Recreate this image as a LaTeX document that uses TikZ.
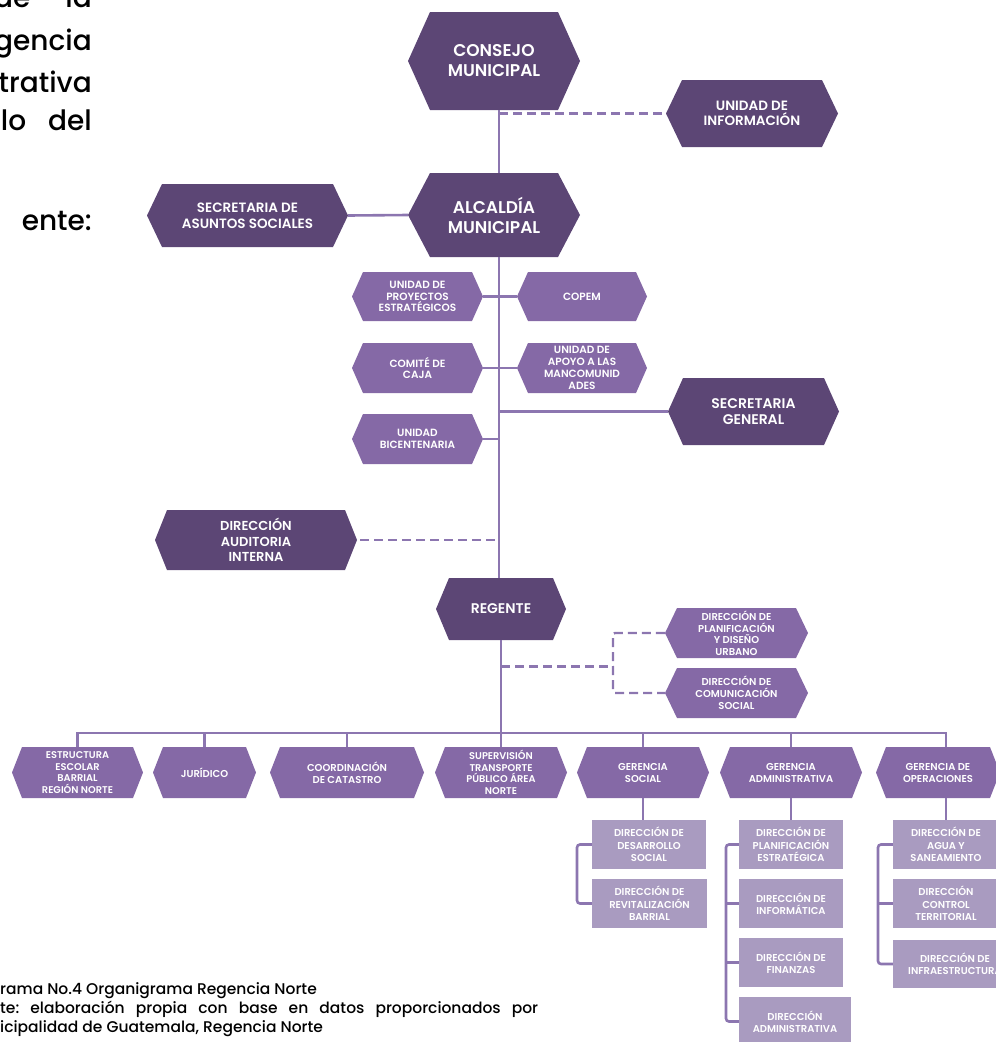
\documentclass[tikz,border=0pt]{standalone}
\usepackage{fontspec}
\setmainfont{Poppins}
\newfontfamily\semib{Poppins SemiBold}
\newfontfamily\medf{Poppins Medium}
\usetikzlibrary{calc}

\definecolor{darkp}{HTML}{5C4675}
\definecolor{midp}{HTML}{8569A6}
\definecolor{lightp}{HTML}{A99BC0}
\definecolor{linec}{HTML}{8C76B0}

\tikzset{
  txt/.style 2 args={font=\semib\fontsize{#1}{#2}\selectfont},
  boxlabel/.style={text=white, align=center, inner sep=0pt},
  conn/.style={draw=linec, line width=2.6pt},
  dconn/.style={draw=linec, line width=2.4pt, dash pattern=on 9pt off 5pt},
  subbox/.style={fill=lightp, text=white, align=center, inner sep=0pt,
                 font=\semib\fontsize{10}{12.3}\selectfont},
  bodytext/.style={font=\medf\fontsize{28}{34}\selectfont, inner sep=0pt},
  captext/.style={font=\medf\fontsize{15.5}{19}\selectfont, inner sep=0pt},
}

% hexagonal box: name, cx, cy, width, height, point inset, colour, text style, text
\newcommand\hexbox[9]{%
  \fill[#7] ({#2-#4/2},#3) -- ({#2-#4/2+#6},{#3-#5/2}) -- ({#2+#4/2-#6},{#3-#5/2})
     -- ({#2+#4/2},#3) -- ({#2+#4/2-#6},{#3+#5/2}) -- ({#2-#4/2+#6},{#3+#5/2}) -- cycle;
  \node[boxlabel, minimum width=#4pt, minimum height=#5pt, #8] (#1) at (#2,#3) {#9};%
}

\begin{document}
\begin{tikzpicture}[x=1pt,y=-1pt]
\useasboundingbox (0,0) rectangle (996,1042);
\clip (0,0) rectangle (996,1042);

% running text of the page
\node[bodytext, anchor=base east] (p1) at (92,7) {de\hspace{35pt}la};
\node[bodytext, anchor=base east] (p2) at (92,50) {gencia};
\node[bodytext, anchor=base east] (p3) at (92,92) {trativa};
\node[bodytext, anchor=base east] (p4) at (92,130) {lo\hspace{22pt}del};
\node[bodytext, anchor=base east] (p5) at (92,230) {ente:};

% spine positions
\coordinate (sp) at (499,0);
\coordinate (busL) at (0,733);
\coordinate (brk) at (613,666.5);
\coordinate (bxs) at (577,0);
\coordinate (bxa) at (726,0);
\coordinate (bxo) at (878,0);

% top levels
\hexbox{cons}{494}{61}{172}{98}{22}{darkp}{txt={17}{20}}{CONSEJO\\MUNICIPAL}
\hexbox{info}{752}{113.5}{172}{67}{16}{darkp}{txt={13.5}{15.5}}{UNIDAD DE\\INFORMACIÓN}
\hexbox{alc}{494}{215}{172}{84}{22}{darkp}{txt={17}{20}}{ALCALDÍA\\MUNICIPAL}
\hexbox{asun}{247.5}{215.5}{201}{63}{15}{darkp}{txt={13.5}{16}}{SECRETARIA DE\\ASUNTOS SOCIALES}

% units under the mayor's office
\hexbox{proy}{417.5}{296.5}{131}{49}{11}{midp}{txt={10.5}{11.8}}{UNIDAD DE\\PROYECTOS\\ESTRATÉGICOS}
\hexbox{copem}{582}{296.5}{130}{49}{11}{midp}{txt={10.5}{11.8}}{COPEM}
\hexbox{caja}{417.5}{368}{131}{50}{11}{midp}{txt={10.5}{11.8}}{COMITÉ DE\\CAJA}
\hexbox{apoyo}{582}{368}{130}{50}{11}{midp}{txt={10.5}{11.8}}{UNIDAD DE\\APOYO A LAS\\MANCOMUNID\\ADES}
\hexbox{sg}{753.5}{411.5}{171}{67}{15}{darkp}{txt={14}{16.5}}{SECRETARIA\\GENERAL}
\hexbox{bic}{417.5}{439}{131}{50}{11}{midp}{txt={10.5}{11.8}}{UNIDAD\\BICENTENARIA}
\hexbox{aud}{256}{540}{202}{60}{12}{darkp}{txt={13}{15.5}}{DIRECCIÓN\\AUDITORIA\\INTERNA}
\hexbox{reg}{501}{609}{130}{62}{13}{darkp}{txt={14}{16}}{REGENTE}
\hexbox{plan}{736.5}{633}{143}{50}{12}{midp}{txt={10}{11.5}}{DIRECCIÓN DE\\PLANIFICACIÓN\\Y DISEÑO\\URBANO}
\hexbox{com}{736.5}{693}{143}{50}{12}{midp}{txt={10}{12}}{DIRECCIÓN DE\\COMUNICACIÓN\\SOCIAL}

% bottom row
\hexbox{esc}{77.5}{772.5}{131}{51}{10}{midp}{txt={9.8}{11.6}}{ESTRUCTURA\\ESCOLAR\\BARRIAL\\REGIÓN NORTE}
\hexbox{jur}{204.5}{772.5}{103}{51}{10}{midp}{txt={10}{12}}{JURÍDICO}
\hexbox{cat}{347}{772.5}{154}{51}{10}{midp}{txt={10}{12}}{COORDINACIÓN\\DE CATASTRO}
\hexbox{sup}{501}{772.5}{132}{51}{10}{midp}{txt={9.8}{11.6}}{SUPERVISIÓN\\TRANSPORTE\\PÚBLICO ÁREA\\NORTE}
\hexbox{gsoc}{643}{772.5}{132}{51}{10}{midp}{txt={10}{12}}{GERENCIA\\SOCIAL}
\hexbox{gadm}{791}{772.5}{142}{51}{10}{midp}{txt={10}{12}}{GERENCIA\\ADMINISTRATIVA}
\hexbox{gop}{938}{772.5}{124}{51}{10}{midp}{txt={10}{12}}{GERENCIA DE\\OPERACIONES}

% directorates
\node[subbox, minimum width=114pt, minimum height=49pt] (ds1) at (649,844.5) {DIRECCIÓN DE\\DESARROLLO\\SOCIAL};
\node[subbox, minimum width=115pt, minimum height=49pt] (ds2) at (649.5,903.5) {DIRECCIÓN DE\\REVITALIZACIÓN\\BARRIAL};
\node[subbox, minimum width=104pt, minimum height=49pt] (da1) at (791,844.5) {DIRECCIÓN DE\\PLANIFICACIÓN\\ESTRATÉGICA};
\node[subbox, minimum width=104pt, minimum height=49pt] (da2) at (791,903.5) {DIRECCIÓN DE\\INFORMÁTICA};
\node[subbox, minimum width=104pt, minimum height=49pt] (da3) at (791,962.5) {DIRECCIÓN DE\\FINANZAS};
\node[subbox, minimum width=112pt, minimum height=49pt] (da4) at (795,1021.5) {DIRECCIÓN\\ADMINISTRATIVA};
\node[subbox, minimum width=106pt, minimum height=49pt] (do1) at (946,844.5) {DIRECCIÓN DE\\AGUA Y\\SANEAMIENTO};
\node[subbox, minimum width=106pt, minimum height=49pt] (do2) at (946,903.5) {DIRECCIÓN\\CONTROL\\TERRITORIAL};
\node[subbox, minimum width=124pt, minimum height=48pt] (do3) at (955,964) {DIRECCIÓN DE\\INFRAESTRUCTURA};

% connectors
\draw[conn] (cons.south -| sp) -- (alc.north -| sp);
\draw[dconn] (info.west -| sp) -- (info.west);
\draw[conn] (asun.east) -- (alc.west);
\draw[conn] (alc.south -| sp) -- (reg.north -| sp);
\draw[conn] (proy.east) -- (copem.west);
\draw[conn] (caja.east) -- (apoyo.west);
\draw[conn] (bic.east) -- (bic.east -| sp);
\draw[conn] (sg.west -| sp) -- (sg.west);
\draw[dconn] (aud.east) ++(3,0) -- (aud.east -| sp);
\draw[dconn] (brk -| reg.south) -- (brk);
\draw[dconn, rounded corners=2pt] (plan.west) -- (plan.west -| brk) -- (com.west -| brk) -- (com.west);

\draw[conn] (reg.south) -- (reg.south |- busL);
\draw[conn] (esc.north) -- (esc.north |- busL) -- (do1.north |- busL) -- (do1.north |- gop.north);
\foreach \n in {jur,cat,sup,gsoc,gadm}
  \draw[conn] (\n.north |- busL) -- (\n.north);

\draw[conn] (gsoc.south) -- (gsoc.south |- ds1.north);
\draw[conn, rounded corners=3pt] (ds1.west) -- (ds1.west -| bxs) -- (ds2.west -| bxs) -- (ds2.west);
\draw[conn] (gadm.south) -- (gadm.south |- da1.north);
\draw[conn, rounded corners=3pt] (da1.west) -- (da1.west -| bxa) -- (da4.west -| bxa) -- (da4.west);
\draw[conn] (da2.west -| bxa) -- (da2.west);
\draw[conn] (da3.west -| bxa) -- (da3.west);
\draw[conn] (do1.north |- gop.south) -- (do1.north);
\draw[conn, rounded corners=3pt] (do1.west) -- (do1.west -| bxo) -- (do3.west -| bxo) -- (do3.west);
\draw[conn] (do2.west -| bxo) -- (do2.west);

% caption
\node[captext, anchor=base west] (c1) at (0,994) {rama No.4 Organigrama Regencia Norte};
\node[captext, anchor=base west] (c2) at (0,1013) {\hbox to 538pt{te:\hfill elaboración\hfill propia\hfill con\hfill base\hfill en\hfill datos\hfill proporcionados\hfill por}};
\node[captext, anchor=base west] (c3) at (0,1032) {icipalidad de Guatemala, Regencia Norte};
\end{tikzpicture}
\end{document}
